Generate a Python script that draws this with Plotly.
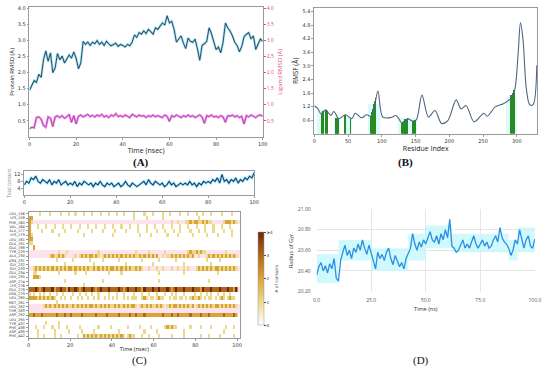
import plotly.graph_objects as go

# ---------------- Panel A: RMSD ----------------
time_a = list(range(0, 101))
protein_rmsd = [1.45, 1.62, 1.75, 1.70, 1.95, 1.85, 2.40, 2.68, 2.35, 2.62,
                2.00, 2.15, 2.60, 2.40, 2.52, 2.30, 2.45, 2.55, 2.45, 2.65,
                2.45, 2.12, 2.30, 2.98, 2.88, 2.95, 2.85, 2.95, 2.90, 3.00,
                2.88, 2.95, 2.85, 2.98, 2.90, 2.84, 2.88, 2.92, 2.82, 2.88,
                2.85, 2.80, 2.88, 2.84, 2.95, 3.18, 3.10, 3.25, 3.20, 3.30,
                3.22, 3.35, 3.28, 3.20, 3.40, 3.35, 3.45, 3.55, 3.48, 3.78,
                3.55, 3.60, 3.35, 2.95, 3.05, 3.15, 2.92, 2.75, 3.08, 2.98,
                2.95, 3.05, 2.75, 2.38, 2.85, 2.90, 2.98, 3.40, 3.22, 3.00,
                2.72, 2.80, 2.62, 2.95, 3.55, 3.40, 3.30, 3.15, 2.95, 2.85,
                2.65, 2.82, 3.12, 3.20, 3.25, 3.05, 3.15, 2.72, 2.88, 3.05, 2.98]
ligand_rmsd = [0.25, 0.30, 0.28, 0.60, 0.62, 0.55, 0.35, 0.30, 0.62, 0.58,
               0.32, 0.62, 0.65, 0.60, 0.66, 0.58, 0.62, 0.70, 0.45, 0.66,
               0.40, 0.64, 0.68, 0.62, 0.66, 0.70, 0.63, 0.67, 0.62, 0.68,
               0.64, 0.70, 0.62, 0.66, 0.60, 0.68, 0.64, 0.72, 0.63, 0.66,
               0.62, 0.68, 0.64, 0.60, 0.70, 0.66, 0.62, 0.68, 0.64, 0.66,
               0.60, 0.66, 0.63, 0.68, 0.62, 0.66, 0.64, 0.60, 0.68, 0.64,
               0.48, 0.66, 0.62, 0.68, 0.64, 0.60, 0.66, 0.62, 0.68, 0.63,
               0.66, 0.60, 0.64, 0.68, 0.62, 0.42, 0.66, 0.63, 0.68, 0.62,
               0.64, 0.60, 0.66, 0.62, 0.45, 0.66, 0.64, 0.68, 0.62, 0.66,
               0.60, 0.64, 0.40, 0.66, 0.62, 0.68, 0.64, 0.60, 0.66, 0.68, 0.64]
rmsd_ticks = [0.5, 1.0, 1.5, 2.0, 2.5, 3.0, 3.5, 4.0]

# ---------------- Panel B: RMSF ----------------
residues = [0, 5, 9.7, 16.9, 24.2, 29, 36.2, 45.9, 55.6, 60.4, 70, 77.3, 84.5, 89, 94.2,
            101.4, 113.5, 121, 130.4, 137.7, 144.9, 151, 159.4, 169, 178.7, 188.4, 198,
            210, 217.4, 224.6, 236.7, 251.2, 256, 268, 280, 292, 297, 302, 305.3, 309,
            314, 319, 324, 329.5]
rmsf = [1.24, 1.12, 0.89, 1.06, 0.81, 0.99, 0.67, 0.84, 0.67, 0.91, 0.71, 0.84, 0.77, 1.2, 1.89,
        0.74, 0.72, 0.81, 0.46, 0.67, 0.57, 0.62, 1.71, 0.74, 1.03, 0.46, 0.60,
        1.50, 1.10, 1.25, 0.53, 0.91, 0.78, 1.19, 1.33, 1.6, 1.96, 3.6, 4.9, 4.2,
        2.0, 1.29, 1.29, 3.03]
contact_res = [11, 13.5, 17, 19, 32, 33, 34, 35, 36, 46, 54, 84, 85, 86, 87, 88, 89, 90, 91,
               130, 131, 133, 135, 136, 138, 147, 150, 292, 294, 296]
contact_rmsf = [0.9, 1.0, 1.07, 1.0, 0.72, 0.72, 0.7, 0.68, 0.67, 0.84, 0.7, 0.8, 0.88, 0.98,
                1.1, 1.2, 1.3, 1.45, 1.6, 0.48, 0.52, 0.58, 0.64, 0.66, 0.67, 0.58, 0.62,
                1.7, 1.8, 1.92]
ss_start = [4, 30, 48, 80, 125, 285]
ss_end = [20, 38, 57, 98, 152, 300]
ss_height = [1.05, 0.8, 0.75, 1.3, 0.72, 1.65]
rmsf_ticks = [0.6, 1.2, 1.8, 2.4, 3.0, 3.6, 4.2, 4.8, 5.4]
res_ticks = [0, 50, 100, 150, 200, 250, 300]

# ---------------- Panel C: contacts ----------------
total_contacts = [6, 8, 7, 10, 9, 11, 8, 7, 9, 8,
                  7, 9, 6, 8, 7, 9, 6, 7, 8, 6,
                  7, 6, 8, 5, 7, 6, 8, 7, 6, 7,
                  5, 7, 6, 8, 6, 5, 7, 6, 7, 5,
                  6, 7, 5, 6, 8, 6, 5, 7, 6, 5,
                  6, 7, 8, 6, 9, 7, 6, 8, 7, 6,
                  7, 5, 6, 8, 6, 7, 5, 6, 7, 6,
                  7, 6, 8, 6, 7, 5, 7, 6, 8, 7,
                  8, 7, 9, 8, 10, 7, 12, 8, 9, 7,
                  9, 8, 10, 7, 9, 8, 10, 9, 11, 10, 13]
residue_labels = ["LEU_156", "LYS_158", "PHE_160", "VAL_164", "ALA_177", "LYS_179", "LEU_181",
                  "GLU_191", "GLU_198", "TYR_229", "ALA_230", "ASN_231", "GLY_232", "GLY_233",
                  "GLU_234", "LEU_235", "ASP_274", "LYS_276", "GLU_278", "ASN_279", "LEU_280",
                  "MET_281", "LEU_282", "THR_283", "ASP_292", "LEU_295", "TYR_437", "PHE_438",
                  "ASP_439", "PHE_442"]
contact_rows = [
    "0000010000" "1000010001" "0010001000" "1000100010" "0010010000" "1000010001" "0000100100" "0010001000" "1001000100" "0010000100",
    "2200000000" "0000000000" "0000000000" "0000000000" "0000000000" "1000001000" "0000100000" "0000000000" "0100000000" "0000000000",
    "2100000000" "0000000000" "0000000000" "0000000000" "0000000000" "0000000000" "0000000010" "0100011212" "2112121100" "0001222121",
    "2000100010" "0010001000" "1000100010" "0010001000" "1000100010" "0010001000" "1000100010" "0010001000" "1000100010" "0010001000",
    "2000001000" "0100000100" "0001000000" "1000010000" "0100001000" "0010001000" "0100010001" "0010000100" "0100100010" "0001000100",
    "2100000000" "0000100000" "0000001000" "0000000000" "1000000000" "0001000010" "0000001000" "0100000010" "0000010000" "1000000100",
    "2200000000" "0000000000" "0000000000" "0000000000" "0000000000" "0000000000" "0000000000" "0000000000" "0000000000" "0000000000",
    "1100000000" "0000000000" "0000000000" "0000000000" "0000000000" "0000000000" "0000000000" "0000000000" "0000000000" "0000000000",
    "0020000000" "0000000000" "0000000000" "0000000000" "0000000000" "0000000000" "0000000000" "0000000000" "0000000000" "0000000000",
    "0000000000" "0000100010" "0000000000" "0001000000" "0000000000" "0100000100" "0000010000" "0000001211" "2121100000" "0000100000",
    "0000000000" "1211212100" "0010121212" "2121012121" "2121212121" "2112121212" "1200101121" "2121212120" "0100012121" "2121212121",
    "0000000000" "0001000000" "0100000001" "0000010000" "0001000000" "0000100000" "0010000000" "1000000000" "0000010000" "0100000000",
    "0000000000" "0000000100" "0000000000" "0100000000" "0000001000" "0000000001" "0000000000" "0000100000" "0000000100" "0000000000",
    "0012121212" "1212121212" "2121212121" "1212121212" "2121212121" "1212100100" "0100100010" "0100101000" "1212121212" "2121212121",
    "0011000000" "0000100000" "0010000100" "0000000010" "0000100000" "0000000000" "0010000000" "0000100000" "0000000000" "1000000000",
    "0022210000" "0000000000" "0000000000" "0000000000" "0000000000" "0000000000" "0000000000" "0000000000" "0000000000" "0000000000",
    "0000000000" "0000000100" "0000000000" "0000010000" "0000000000" "0000000000" "0010000000" "0000000000" "0000001000" "0000000000",
    "0000000000" "0000000000" "0000001000" "0000000000" "0000000000" "0000000000" "0000000000" "0000000000" "0000000000" "0000000000",
    "3334323433" "3423343324" "3343234333" "4323433343" "3334323433" "3433243334" "3343334323" "4333433343" "3324333433" "3433343324",
    "1010010100" "1001001000" "0100100100" "1001000010" "0010010000" "1000100100" "0100010010" "1000100001" "0010010100" "1001001000",
    "2222121212" "1210010100" "1001010010" "0101001010" "1010010101" "1100121011" "0121100101" "1011010121" "1210101101" "0121012110",
    "0000000000" "0001000000" "0000000000" "0000000000" "0000000000" "0000000000" "0000000000" "0000000000" "0000000000" "0000000000",
    "0000000121" "2121212121" "1212121212" "2121212121" "1212121212" "2101212121" "1212101212" "2121212120" "1212121212" "2121212121",
    "0000000000" "0000000000" "0000000000" "0000000000" "0000000000" "0000000000" "0000000000" "0000000000" "0000000000" "0000000000",
    "2232223222" "2223222322" "3222232222" "2232222322" "2223222232" "2322232222" "2222322232" "2322222322" "2232223222" "2223222232",
    "0000000000" "0000000000" "0000000000" "0000000000" "0000000000" "0000000000" "0000000000" "0000000000" "0000000000" "0000000000",
    "0000000010" "0000100000" "0000000000" "0000000000" "0000000000" "0000000000" "0000000000" "0000000000" "0000000000" "0000000000",
    "0001000100" "0100100010" "0000100000" "0001000001" "0000000100" "0001000010" "0000012121" "1000000100" "0010000100" "0000100010",
    "0000100000" "0010000001" "0000010000" "0100000000" "0001000000" "0000010000" "0100000000" "0000100000" "0000000000" "0001000000",
    "0000100100" "0010010000" "0001002121" "2121212121" "2121210121" "1000100100" "0010000010" "0000100000" "0010001000" "0100000010",
]
pink_rows = [2, 9, 10, 13, 18, 22, 23]
time_ticks = [0, 20, 40, 60, 80, 100]

# ---------------- Panel D: radius of gyration ----------------
rg = [20.36, 20.44, 20.48, 20.40, 20.45, 20.38, 20.47, 20.42, 20.52, 20.33,
      20.30, 20.50, 20.58, 20.65, 20.55, 20.60, 20.52, 20.62, 20.58, 20.66,
      20.60, 20.70, 20.62, 20.56, 20.65, 20.58, 20.50, 20.42, 20.58, 20.52,
      20.56, 20.50, 20.58, 20.62, 20.52, 20.46, 20.55, 20.50, 20.44, 20.48,
      20.42, 20.52, 20.58, 20.62, 20.76, 20.66, 20.60, 20.68, 20.63, 20.70,
      20.66, 20.72, 20.78, 20.70, 20.68, 20.74, 20.66, 20.76, 20.70, 20.80,
      20.72, 20.90, 20.64, 20.62, 20.58, 20.60, 20.66, 20.70, 20.62, 20.66,
      20.62, 20.68, 20.74, 20.66, 20.62, 20.66, 20.70, 20.64, 20.68, 20.62,
      20.64, 20.70, 20.74, 20.68, 20.82, 20.72, 20.68, 20.66, 20.62, 20.55,
      20.60, 20.70, 20.66, 20.80, 20.72, 20.62, 20.70, 20.74, 20.64, 20.62, 20.71]
band_t0 = [0, 10, 25, 42, 50, 62, 88, 92]
band_t1 = [10, 25, 42, 50, 62, 88, 92, 100]
band_lo = [20.28, 20.50, 20.40, 20.50, 20.62, 20.58, 20.50, 20.58]
band_hi = [20.56, 20.70, 20.62, 20.76, 20.84, 20.76, 20.70, 20.82]
rg_yticks = [20.2, 20.4, 20.6, 20.8, 21.0]
rg_xticks = [0, 25, 50, 75, 100]

# ======================================================
W, H = 550, 371
def px_x(a, b):
    return [a / W, b / W]
def px_y(top, bottom):
    return [1 - bottom / H, 1 - top / H]

fig = go.Figure()
tf = dict(size=5, color="#333", family="DejaVu Sans")
tf_small = dict(size=4.2, color="#333", family="DejaVu Sans")

# Panel A traces
fig.add_trace(go.Scatter(x=time_a, y=protein_rmsd, mode="lines",
                         line=dict(color="rgba(130,228,240,0.6)", width=2.8),
                         xaxis="x", yaxis="y", hoverinfo="skip", showlegend=False))
fig.add_trace(go.Scatter(x=time_a, y=protein_rmsd, mode="lines",
                         line=dict(color="#34506e", width=1.1),
                         xaxis="x", yaxis="y", showlegend=False))
fig.add_trace(go.Scatter(x=time_a, y=ligand_rmsd, mode="lines",
                         line=dict(color="rgba(240,110,225,0.75)", width=2.4),
                         xaxis="x", yaxis="y2", hoverinfo="skip", showlegend=False))
fig.add_trace(go.Scatter(x=time_a, y=ligand_rmsd, mode="lines",
                         line=dict(color="#9b3aa8", width=0.8),
                         xaxis="x", yaxis="y2", showlegend=False))

# Panel B traces
fig.add_trace(go.Bar(x=[(a + b) / 2 for a, b in zip(ss_start, ss_end)],
                     y=ss_height, width=[b - a for a, b in zip(ss_start, ss_end)],
                     marker=dict(color="rgba(215,250,252,0.9)", line=dict(width=0)),
                     xaxis="x3", yaxis="y3", showlegend=False))
fig.add_trace(go.Bar(x=contact_res, y=contact_rmsf, width=0.9,
                     marker=dict(color="#2a8a22", line=dict(width=0)),
                     xaxis="x3", yaxis="y3", showlegend=False))
fig.add_trace(go.Scatter(x=residues, y=rmsf, mode="lines",
                         line=dict(color="#4d6680", width=1.1, shape="spline", smoothing=0.9),
                         xaxis="x3", yaxis="y3", showlegend=False))

# Panel C top
fig.add_trace(go.Scatter(x=time_a, y=total_contacts, mode="lines",
                         line=dict(color="rgba(150,235,245,0.8)", width=3),
                         xaxis="x4", yaxis="y4", hoverinfo="skip", showlegend=False))
fig.add_trace(go.Scatter(x=time_a, y=total_contacts, mode="lines",
                         line=dict(color="#1c3a78", width=1.1),
                         xaxis="x4", yaxis="y4", showlegend=False))

# Panel C heatmap
n_rows = len(residue_labels)
pink_z = [[1] if i in pink_rows else [None] for i in range(n_rows)]
fig.add_trace(go.Heatmap(z=pink_z, x0=50.75, dx=101.5, y=list(range(n_rows)),
                         colorscale=[[0, "#fde3ee"], [1, "#fde3ee"]], showscale=False,
                         xaxis="x5", yaxis="y5", hoverinfo="skip"))
heat_z = [[(int(c) if c != "0" else None) for c in row] for row in contact_rows]
fig.add_trace(go.Heatmap(
    z=heat_z, x0=0.5, dx=1, y=list(range(n_rows)), zmin=0, zmax=4,
    colorscale=[[0, "#ffffff"], [0.25, "#ecd98c"], [0.5, "#d9a33a"],
                [0.75, "#b0661c"], [1, "#6e2a0a"]],
    xaxis="x5", yaxis="y5",
    colorbar=dict(x=259 / W, xanchor="left", xpad=0, ypad=0, thickness=6, len=95 / H,
                  y=1 - 280.5 / H, yanchor="middle", tickvals=[0, 1, 2, 3, 4],
                  ticktext=["0", "1", "2", "3", "≥4"], tickfont=tf_small,
                  ticks="outside", ticklen=2, outlinecolor="#999", outlinewidth=0.5,
                  title=dict(text="# of contacts", side="right", font=tf_small))))

# Panel D
for a, b, lo, hi in zip(band_t0, band_t1, band_lo, band_hi):
    fig.add_trace(go.Scatter(x=[a, b, b, a, a], y=[lo, lo, hi, hi, lo], mode="lines",
                             fill="toself", fillcolor="rgba(195,248,252,0.8)",
                             line=dict(width=0), xaxis="x6", yaxis="y6",
                             hoverinfo="skip", showlegend=False))
fig.add_trace(go.Scatter(x=time_a, y=rg, mode="lines",
                         line=dict(color="#2a8fe0", width=1.3),
                         xaxis="x6", yaxis="y6", showlegend=False))

box = dict(showline=True, mirror=True, linecolor="#9a9a9a", linewidth=0.8,
           showgrid=False, zeroline=False, ticks="outside", ticklen=2,
           tickcolor="#9a9a9a", tickfont=tf)

fig.update_layout(
    width=W, height=H, margin=dict(l=0, r=0, t=0, b=0),
    paper_bgcolor="white", plot_bgcolor="white", showlegend=False,
    bargap=0, barmode="overlay",
    xaxis=dict(domain=px_x(26, 264), anchor="y", range=[0, 100], tickvals=time_ticks,
               title=dict(text="Time (nsec)", font=dict(size=7, color="#222"), standoff=2), **box),
    yaxis=dict(domain=px_y(4, 136), anchor="x", range=[0, 4.05], tickvals=rmsd_ticks,
               tickformat=".1f",
               title=dict(text="Protein RMSD (Å)", font=dict(size=6, color="#222"), standoff=2), **box),
    yaxis2=dict(overlaying="y", side="right", anchor="x", range=[0, 4.05], tickvals=rmsd_ticks,
                tickformat=".1f", showgrid=False, zeroline=False, ticks="outside", ticklen=2,
                tickcolor="#e0507a", tickfont=dict(size=5, color="#e0507a"),
                title=dict(text="Ligand RMSD (Å)", font=dict(size=6, color="#e0507a"), standoff=4)),
    xaxis3=dict(domain=px_x(316.7, 544), anchor="y3", range=[0, 330], tickvals=res_ticks,
                title=dict(text="Residue Index", font=dict(size=7, color="#222"), standoff=2), **box),
    yaxis3=dict(domain=px_y(5, 133), anchor="x3", range=[0, 5.56], tickvals=rmsf_ticks,
                tickformat=".1f",
                title=dict(text="RMSF (Å)", font=dict(size=6.5, color="#222"), standoff=3), **box),
    xaxis4=dict(domain=px_x(20.7, 255.3), anchor="y4", range=[0, 100], tickvals=time_ticks, **box),
    yaxis4=dict(domain=px_y(170.7, 195.5), anchor="x4", range=[0, 14], tickvals=[4, 8, 12],
                title=dict(text="Total contacts", font=dict(size=4.5, color="#888"), standoff=2),
                **box),
    xaxis5=dict(domain=px_x(25, 241), anchor="y5", range=[0, 101.5], tickvals=time_ticks,
                title=dict(text="Time (nsec)", font=dict(size=5.5, color="#222"), standoff=0), **box),
    yaxis5=dict(domain=px_y(212.3, 340.7), anchor="x5", range=[n_rows - 0.5, -0.5],
                tickvals=list(range(n_rows)), ticktext=residue_labels,
                **{**box, "tickfont": dict(size=3.6, color="#333", family="DejaVu Sans")}),
    xaxis6=dict(domain=px_x(319, 541.7), anchor="y6", range=[0, 100], tickvals=rg_xticks,
                tickformat=".1f", showgrid=True, gridcolor="#e6e6e6", zeroline=False,
                showline=False, tickfont=dict(size=5, color="#555"), ticklabeloverflow="allow",
                ticks="outside", ticklen=3, tickcolor="rgba(0,0,0,0)",
                title=dict(text="Time (ns)", font=dict(size=5.5, color="#333"), standoff=5)),
    yaxis6=dict(domain=px_y(209.3, 293.3), anchor="x6", range=[20.2, 21.0], tickvals=rg_yticks,
                tickformat=".2f", showgrid=True, gridcolor="#e6e6e6", zeroline=False,
                showline=False, tickfont=dict(size=5, color="#555"),
                ticks="outside", ticklen=4, tickcolor="rgba(0,0,0,0)",
                title=dict(text="Radius of Gyr.", font=dict(size=5.5, color="#333"), standoff=3)),
)

labels = [("(A)", 140, 162, True), ("(B)", 410, 162, True), ("(C)", 138, 363, False), ("(D)", 425, 363, False)]
for txt, x, y, bold in labels:
    fig.add_annotation(text=f"<b>{txt}</b>" if bold else txt, x=x / W, y=1 - y / H,
                       xref="paper", yref="paper", xanchor="center", yanchor="middle",
                       showarrow=False,
                       font=dict(family="Liberation Serif", size=11, color="#111"))

fig.write_html("out.html", config={"displayModeBar": False},
               post_script="document.body.style.margin='0';document.body.style.overflow='hidden';")
